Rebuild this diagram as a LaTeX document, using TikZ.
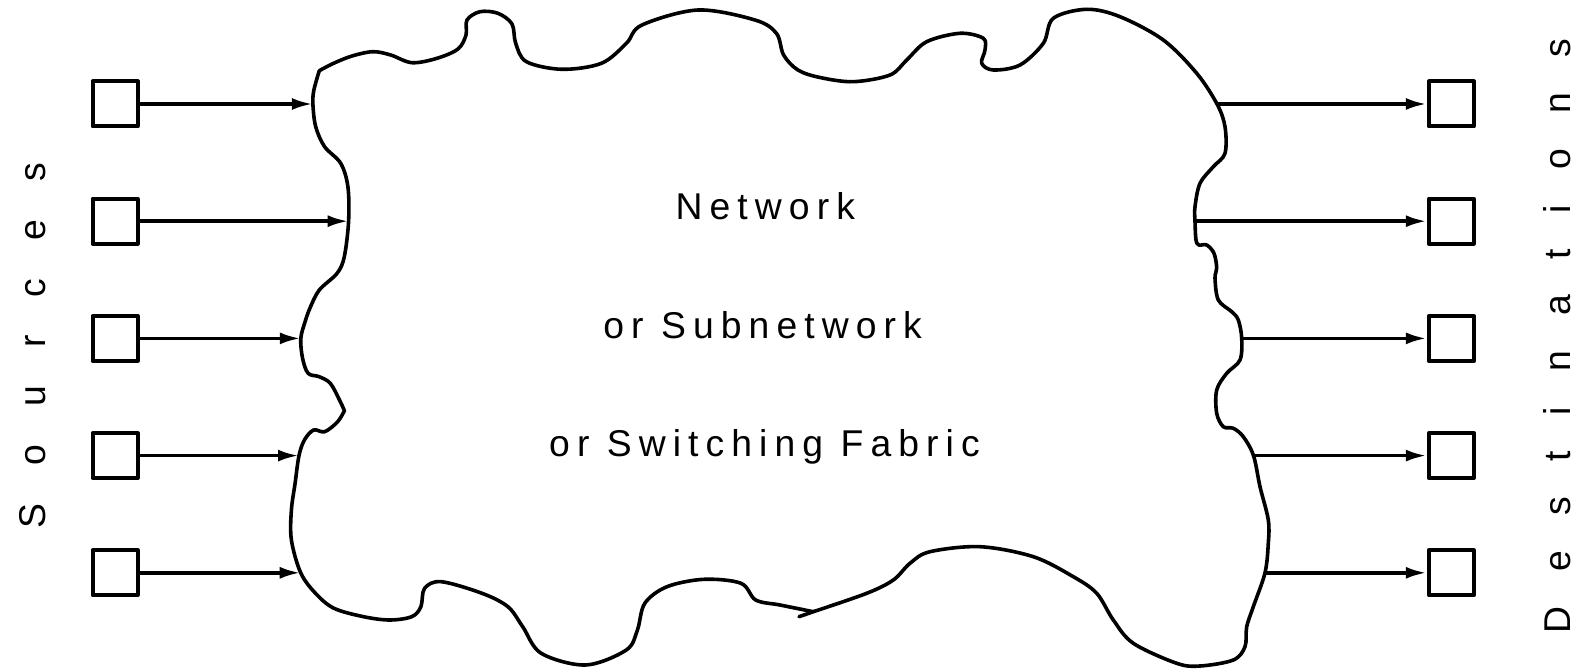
\documentclass[tikz,border=0pt]{standalone}
\usepackage{fontspec}
\setmainfont{Liberation Sans}
\newfontfamily\midfont[LetterSpace=19]{Liberation Sans}
\newfontfamily\srcfont[LetterSpace=102]{Liberation Sans}
\newfontfamily\dstfont[LetterSpace=95]{Liberation Sans}
\usetikzlibrary{arrows.meta}
\tikzset{
  box/.style={draw, line width=4pt, line join=round, minimum size=45pt, inner sep=0pt},
  link/.style={line width=3.6pt, -{Latex[length=21pt,width=12pt]}},
  cloudline/.style={line width=3.6pt, line join=round, line cap=round},
  midlbl/.style={inner sep=0pt, anchor=base west, font=\midfont\fontsize{37.3}{40}\selectfont},
  sidelbl/.style={inner sep=0pt, anchor=base west, rotate=90},
}
\begin{document}
\begin{tikzpicture}[x=1pt,y=-1pt]
\useasboundingbox (0,0) rectangle (1580,671);
% anchor points on the cloud
\coordinate (l1) at (312.9,104);
\coordinate (l2) at (348.6,221.2);
\coordinate (l3) at (300.8,338.4);
\coordinate (l4) at (299,455.6);
\coordinate (l5) at (300.7,572.8);
\coordinate (r1) at (1217,104);
\coordinate (r2) at (1195,221.2);
\coordinate (r3) at (1241.7,338.4);
\coordinate (r4) at (1253.5,455.6);
\coordinate (r5) at (1265,572.8);
\coordinate (tl) at (319.3,70.7);
\coordinate (seam) at (813.3,611.7);
\coordinate (tail) at (799,616.7);
\coordinate (cusp) at (344.4,410.7);
% cloud outline
\draw[cloudline] plot[smooth, tension=0.55] coordinates {
 (tl) (333.6,63.3) (352,56) (372.9,51.7) (390.7,55) (412,62.7) (437,58.3) (458,49)
 (466,35) (467,20) (480,11.7) (497.9,13.3) (512,24) (515.7,43.3) (526.4,61.7)
 (562,69.3) (601.4,63.3) (626.4,43.3) (642,25) (697.9,10) (755,20) (776.4,33.3)
 (783.6,55) (797.9,70) (820,77.5) (853.3,81.7) (890,75) (906.7,60) (926.7,41.7)
 (960,33.3) (983.3,38.3) (985,50) (981.7,63.3) (993.3,70) (1020,65) (1043.3,43.3)
 (1053.3,18.3) (1086.7,9.3) (1120,16.7) (1163.3,40) (1196.7,73.3) (r1)
 (1225,126.7) (1225,153.3) (1213.3,166.7) (1200,183.3) (1195,206.7) (r2)
 (1196,240) (1199,245) (1206.7,245) (1214,253.3) (1216.7,268) (1215,278)
 (1218.3,300) (1231.7,311.7) (1238.3,320) (r3) (1240,360) (1226.7,373.3)
 (1216.7,390) (1216.7,413.3) (1223.3,426.7) (1233.3,428.3) (1243.3,436.7) (r4)
 (1260,486.7) (1268.3,520) (1268.3,543.3) (r5) (1253.3,606.7) (1246.7,626.7)
 (1245,646.7) (1233.3,660) (1200,666) (1176.7,663.3) (1133.3,643.3) (1113.3,620)
 (1096.7,593.3) (1073.3,576.7) (1033.3,556.7) (980,546.7) (930,551.7) (910,563.3)
 (893.3,580) (866.7,593.3) (seam)} -- (tail);
\draw[cloudline] plot[smooth, tension=0.55] coordinates {
 (seam) (780,605) (755.7,600) (741,583.3) (704,579.3) (667,586.7) (644.8,603.3)
 (637.4,630) (626.3,650) (585.6,665) (541.2,653.3) (522.7,626.7) (507.9,606.7)
 (482,593.3) (441.3,581.7) (424.6,588.3) (420.9,606.7) (411.7,616.7) (389.5,620)
 (363.6,616.7) (334,608.3) (315.5,593.3) (l5) (291.4,540) (291.4,510) (295.1,483.3)
 (l4) (304.4,440) (313.6,430) (324.7,431.7) (337.7,421.7) (cusp)}
 -- plot[smooth, tension=0.55] coordinates {
 (cusp) (339.5,400) (330.3,383.3) (319.2,376.7) (308.1,373.3) (302.5,358) (l3)
 (305,322) (310,308) (319.3,290) (337.1,273.3) (344.3,256.7) (l2) (347.9,186.7)
 (340.7,163.3) (324.6,146.7) (315.7,126.7) (l1) (313.9,90) (tl)};
% sources and destinations
\foreach \i/\y in {1/104,2/221.2,3/338.4,4/455.6,5/572.8}{
  \node[box] (s\i) at (115,\y) {};
  \node[box] (d\i) at (1451.3,\y) {};
}
\foreach \i in {1,...,5}{
  \draw[link] (s\i.east) -- (l\i);
  \draw[link] (r\i) -- (d\i.west);
}
% labels
\node[midlbl] (t1) at (675.4,220) {Network};
\node[midlbl] (t2) at (603.2,338.6) {or Subnetwork};
\node[midlbl] (t3) at (549,456) {or Switching Fabric};
\node[sidelbl, font=\srcfont\fontsize{37.3}{40}\selectfont] (src) at (45.3,528.5) {Sources};
\node[sidelbl, font=\dstfont\fontsize{37.3}{40}\selectfont] (dst) at (1570,634) {Destinations};
\end{tikzpicture}
\end{document}
